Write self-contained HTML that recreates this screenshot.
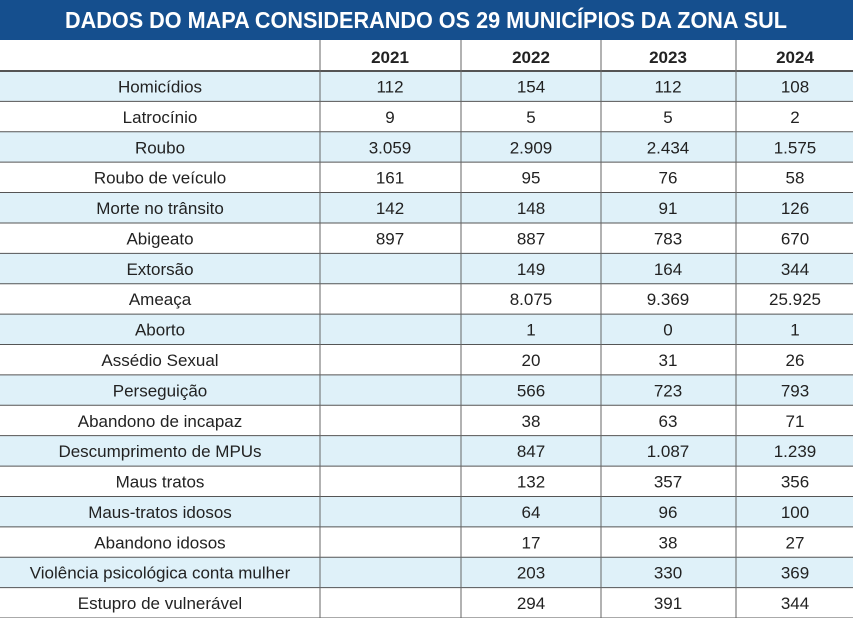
<!DOCTYPE html>
<html><head><meta charset="utf-8"><style>body{margin:0;background:#fff}svg{display:block}</style></head><body>
<svg width="853" height="618" xmlns="http://www.w3.org/2000/svg" font-family="Liberation Sans, sans-serif">
<rect x="0" y="0" width="853" height="40" fill="#154f8e"/>
<text x="426" y="28" fill="#fff" font-size="23" font-weight="bold" text-anchor="middle" textLength="722" lengthAdjust="spacingAndGlyphs">DADOS DO MAPA CONSIDERANDO OS 29 MUNICÍPIOS DA ZONA SUL</text>
<g id="rows"></g>
<g font-size="17" font-weight="bold" fill="#222" text-anchor="middle">
<text x="390" y="63">2021</text><text x="531" y="63">2022</text><text x="668" y="63">2023</text><text x="795" y="63">2024</text>
</g>
<script>
const data=[["Homicídios","112","154","112","108"],["Latrocínio","9","5","5","2"],["Roubo","3.059","2.909","2.434","1.575"],["Roubo de veículo","161","95","76","58"],["Morte no trânsito","142","148","91","126"],["Abigeato","897","887","783","670"],["Extorsão","","149","164","344"],["Ameaça","","8.075","9.369","25.925"],["Aborto","","1","0","1"],["Assédio Sexual","","20","31","26"],["Perseguição","","566","723","793"],["Abandono de incapaz","","38","63","71"],["Descumprimento de MPUs","","847","1.087","1.239"],["Maus tratos","","132","357","356"],["Maus-tratos idosos","","64","96","100"],["Abandono idosos","","17","38","27"],["Violência psicológica conta mulher","","203","330","369"],["Estupro de vulnerável","","294","391","344"]];
const ns="http://www.w3.org/2000/svg",g=document.getElementById("rows");
const cx=[160,390,531,668,795],h=30.39;
function el(t,a,txt){const e=document.createElementNS(ns,t);for(const k in a)e.setAttribute(k,a[k]);if(txt!==undefined)e.textContent=txt;g.appendChild(e);return e;}
data.forEach((r,i)=>{const y=71+i*h;if(i%2==0)el("rect",{x:0,y:y,width:853,height:h,fill:"#dff1f9"});
r.forEach((t,j)=>{if(t)el("text",{x:cx[j],y:y+21.5,"font-size":"17",fill:"#222","text-anchor":"middle"},t);});});
for(let i=0;i<=18;i++){const y=71+i*h;el("line",{x1:0,x2:853,y1:y,y2:y,stroke:"#555","stroke-width":i==0?2:1});}
[320,461,601,736].forEach(x=>el("line",{x1:x,x2:x,y1:40,y2:618,stroke:"#666","stroke-width":1}));
</script>
</svg>
</body></html>
